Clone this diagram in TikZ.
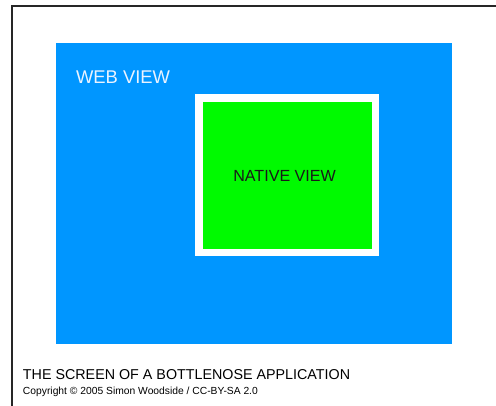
\documentclass[tikz,border=0pt]{standalone}
\usepackage{fontspec}
\setmainfont{Liberation Sans}
\definecolor{webblue}{RGB}{0,150,255}
\definecolor{natgreen}{RGB}{0,250,0}
\definecolor{weblabel}{RGB}{235,243,255}
\begin{document}
\begin{tikzpicture}[x=1pt,y=-1pt,
  box/.style={inner sep=0pt,outer sep=0pt,draw=none},
  lbl/.style={inner sep=0pt,outer sep=0pt,anchor=base west}]
\useasboundingbox (0,0) rectangle (496,406);
\coordinate (tl) at (12,6);
\coordinate (tr) at (496,6);
\coordinate (bl) at (12,406);
\draw[line width=1.2pt,black!85] (bl) -- (tl) -- (tr);
\node[box,fill=webblue,minimum width=396pt,minimum height=301pt] (web) at (254,193.5) {};
\node[box,fill=white,minimum width=184pt,minimum height=162pt] (frame) at (287,175) {};
\node[box,fill=natgreen,minimum width=169pt,minimum height=147pt] (native) at (287.5,175.5) {};
\node[lbl,text=weblabel,font=\fontsize{18.4}{20}\selectfont] (weblbl) at (76,83.3) {WEB VIEW};
\node[lbl,text=black!90,font=\fontsize{16.1}{18}\selectfont] (natlbl) at (233.3,181.3) {NATIVE VIEW};
\node[lbl,text=black,font=\fontsize{14.3}{16}\selectfont] (title) at (23,380) {THE SCREEN OF A BOTTLENOSE APPLICATION};
\node[lbl,text=black,font=\fontsize{10.3}{12}\selectfont] (copy) at (23,395) {Copyright © 2005 Simon Woodside / CC-BY-SA 2.0};
\end{tikzpicture}
\end{document}
